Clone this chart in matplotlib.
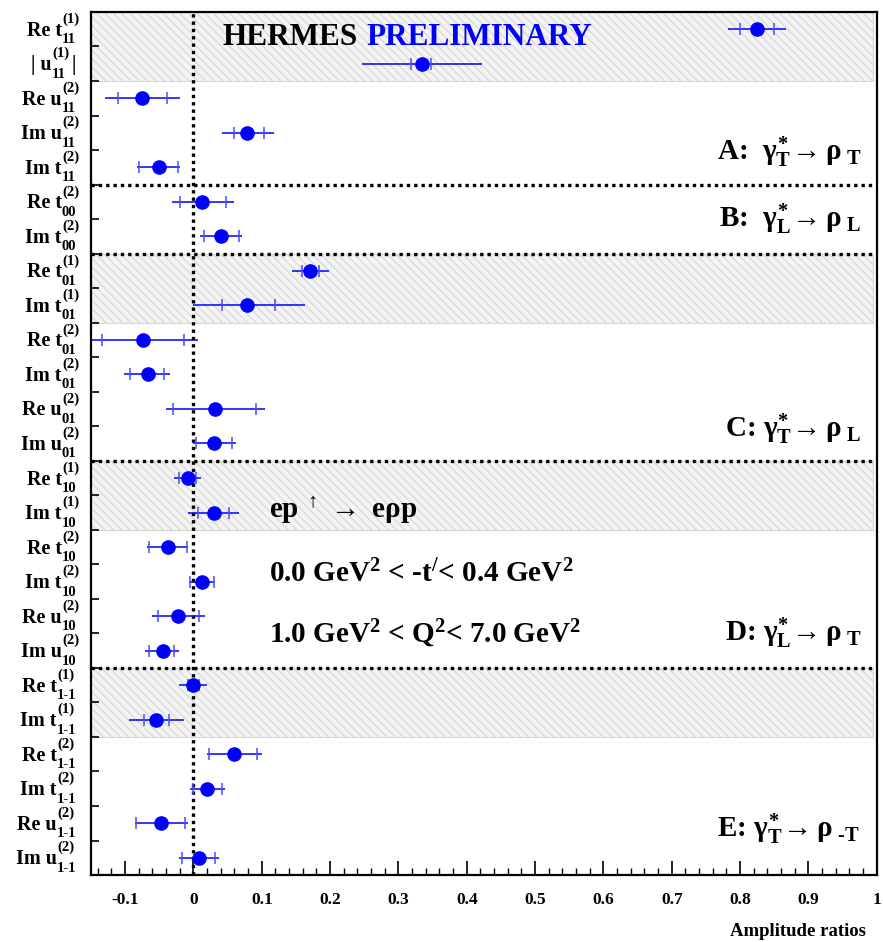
import numpy as np
import matplotlib
matplotlib.use("Agg")
import matplotlib.pyplot as plt
from matplotlib.ticker import MultipleLocator, FixedLocator, FuncFormatter

plt.rcParams["font.family"] = "Liberation Serif"
plt.rcParams["font.weight"] = "bold"
plt.rcParams["mathtext.fontset"] = "custom"
plt.rcParams["mathtext.rm"] = "Liberation Serif:bold"
plt.rcParams["mathtext.it"] = "Liberation Serif:bold"
plt.rcParams["mathtext.bf"] = "Liberation Serif:bold"
plt.rcParams["axes.unicode_minus"] = False
plt.rcParams["hatch.linewidth"] = 0.8

# amplitude ratios, top row first; each row label is main text + sub/superscript
label_main = ["Re t", "| u", "Re u", "Im u", "Im t",
              "Re t", "Im t",
              "Re t", "Im t", "Re t", "Im t", "Re u", "Im u",
              "Re t", "Im t", "Re t", "Im t", "Re u", "Im u",
              "Re t", "Im t", "Re t", "Im t", "Re u", "Im u"]
label_sub = ["11", "11", "11", "11", "11",
             "00", "00",
             "01", "01", "01", "01", "01", "01",
             "10", "10", "10", "10", "10", "10",
             "1-1", "1-1", "1-1", "1-1", "1-1", "1-1"]
label_sup = ["(1)", "(1)", "(2)", "(2)", "(2)",
             "(2)", "(2)",
             "(1)", "(1)", "(2)", "(2)", "(2)", "(2)",
             "(1)", "(1)", "(2)", "(2)", "(2)", "(2)",
             "(1)", "(1)", "(2)", "(2)", "(2)", "(2)"]

values = [0.824, 0.334, -0.075, 0.079, -0.051, 0.013, 0.040, 0.171, 0.079,
          -0.074, -0.067, 0.032, 0.030, -0.008, 0.030, -0.037, 0.013, -0.022,
          -0.045, 0.000, -0.055, 0.059, 0.020, -0.047, 0.008]
stat_lo = [0.024, 0.016, 0.035, 0.020, 0.028, 0.033, 0.024, 0.012, 0.037,
           0.060, 0.026, 0.062, 0.026, 0.013, 0.024, 0.028, 0.018, 0.030,
           0.020, 0.008, 0.018, 0.036, 0.020, 0.037, 0.025]
stat_hi = [0.025, 0.014, 0.037, 0.024, 0.029, 0.034, 0.026, 0.012, 0.041,
           0.060, 0.024, 0.060, 0.027, 0.012, 0.022, 0.027, 0.017, 0.030,
           0.017, 0.008, 0.019, 0.034, 0.022, 0.035, 0.023]
tot_lo = [0.042, 0.088, 0.054, 0.037, 0.032, 0.045, 0.031, 0.027, 0.080,
          0.080, 0.034, 0.072, 0.030, 0.020, 0.038, 0.031, 0.020, 0.038,
          0.026, 0.021, 0.040, 0.039, 0.025, 0.039, 0.029]
tot_hi = [0.043, 0.088, 0.055, 0.039, 0.031, 0.046, 0.031, 0.027, 0.084,
          0.080, 0.033, 0.072, 0.032, 0.019, 0.036, 0.029, 0.019, 0.039,
          0.024, 0.020, 0.041, 0.041, 0.026, 0.039, 0.029]

shaded_rows = [(0, 1), (7, 8), (13, 14), (19, 20)]
group_ends = [4, 6, 12, 18]

n = len(values)
y = n - 0.5 - np.arange(n)
v = np.array(values)

fig = plt.figure(figsize=(8.83, 9.42), dpi=100)
ax = fig.add_axes([0.103, 0.0711, 0.890, 0.9162])
ax.set_xlim(-0.15, 1.0)
ax.set_ylim(0, n)

for a, b in shaded_rows:
    ax.fill_between([-0.15, 0.994], n - b - 1, n - a, facecolor="#f4f4f4",
                    edgecolor="#d6d6d6", hatch="\\\\\\\\", lw=0.8, zorder=0)

for g in group_ends:
    ax.axhline(n - g - 1, color="black", ls=(0, (1, 1.2)), lw=2.4, zorder=1)
ax.axvline(0, color="black", ls=(0, (1, 1.2)), lw=2.4, zorder=1)

ax.errorbar(v, y, xerr=[tot_lo, tot_hi], fmt="none", ecolor="blue", elinewidth=1.1,
            capsize=0, zorder=3)
ax.plot(np.concatenate([v - np.array(stat_lo), v + np.array(stat_hi)]),
        np.concatenate([y, y]), ls="none", marker="|", ms=8, mew=1.1,
        color="#4a4aff", zorder=3)
ax.plot(v, y, ls="none", marker="o", ms=9.5, color="blue", mec="blue", zorder=4)

ax.xaxis.set_major_locator(MultipleLocator(0.1))
ax.xaxis.set_minor_locator(MultipleLocator(0.02))
ax.xaxis.set_major_formatter(FuncFormatter(lambda x, p: "%g" % round(x, 2)))
ax.tick_params(axis="x", which="major", direction="in", length=10, width=1.2,
               labelsize=12.5, pad=12)
ax.tick_params(axis="x", which="minor", direction="in", length=5, width=1.0)

ax.set_yticks([])
ax.yaxis.set_minor_locator(FixedLocator(np.arange(1, n)))
ax.tick_params(axis="y", which="minor", direction="in", length=6, width=1.2)
for s in ax.spines.values():
    s.set_linewidth(1.6)

# row labels: main text right-aligned, stacked sub/superscript to its right
px = 0.72  # points per pixel at 100 dpi
for yi, main, sub, sup in zip(y, label_main, label_sub, label_sup):
    x0 = -34 if sub == "1-1" else -29
    if main.startswith("|"):
        x0 = -39
    kw = dict(xy=(0, yi), xycoords=("axes fraction", "data"),
              textcoords="offset points", va="baseline", annotation_clip=False)
    ax.annotate(main, xytext=(x0 * px, -6.5 * px), ha="right", fontsize=14.5, **kw)
    ax.annotate(sub, xytext=(x0 * px, -14 * px), ha="left", fontsize=10.5, **kw)
    ax.annotate(sup, xytext=(x0 * px, 6.5 * px), ha="left", fontsize=10.5, **kw)
    if main.startswith("|"):
        ax.annotate("|", xytext=(-17 * px, -6.5 * px), ha="center",
                    fontsize=14.5, **kw)

ax.text(0.042, 24.27, "HERMES", fontsize=22.5, va="center", ha="left", color="black")
ax.text(0.253, 24.27, "PRELIMINARY", fontsize=22.5, va="center", ha="left", color="blue")

fs = 21
ax.text(0.978, 20.71, r"A:  $\gamma^{*}_{\mathrm{T}}\!\rightarrow \rho_{\ \mathrm{T}}$",
        fontsize=fs, ha="right", va="baseline")
ax.text(0.978, 18.77, r"B:  $\gamma^{*}_{\mathrm{L}}\!\rightarrow \rho_{\ \mathrm{L}}$",
        fontsize=fs, ha="right", va="baseline")
ax.text(0.978, 12.69, r"C: $\gamma^{*}_{\mathrm{T}}\!\rightarrow \rho_{\ \mathrm{L}}$",
        fontsize=fs, ha="right", va="baseline")
ax.text(0.978, 6.78, r"D: $\gamma^{*}_{\mathrm{L}}\!\rightarrow \rho_{\ \mathrm{T}}$",
        fontsize=fs, ha="right", va="baseline")
ax.text(0.975, 1.10, r"E: $\gamma^{*}_{\mathrm{T}}\!\rightarrow \rho_{\ \text{-T}}$",
        fontsize=fs, ha="right", va="baseline")

ax.text(0.111, 10.34, r"ep$^{\ \uparrow}$$\,\rightarrow$ e$\rho$p", fontsize=fs,
        ha="left", va="baseline")
ax.text(0.111, 8.49, r"0.0 GeV$^2$ < -t$^{/}$< 0.4 GeV$^2$", fontsize=fs,
        ha="left", va="baseline")
ax.text(0.111, 6.72, r"1.0 GeV$^2$ < Q$^2$< 7.0 GeV$^2$", fontsize=fs,
        ha="left", va="baseline")

fig.text(866 / 883, 1 - 931 / 942, "Amplitude ratios", fontsize=13.5,
         ha="right", va="center")

fig.savefig("out.png", dpi=100)
